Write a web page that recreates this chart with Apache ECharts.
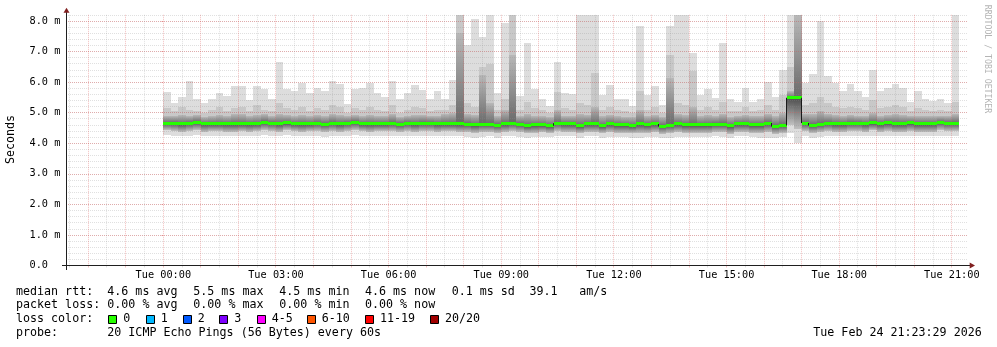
<!DOCTYPE html>
<html><head><meta charset="utf-8">
<script src="https://cdn.jsdelivr.net/npm/echarts@6/dist/echarts.min.js"></script>
<style>html,body{margin:0;padding:0;background:#fff}#c{width:997px;height:347px}</style>
</head><body><div id="c"></div>
<script>
// ---- data (minutes from Tue 00:00, 12-minute bins, values in ms) ----
const binMinutes = 12;
const pTop = [5.66,5.30,5.51,6.05,5.46,5.33,5.46,5.64,5.54,5.86,
  5.86,5.40,5.86,5.77,5.46,6.66,5.77,5.70,5.96,5.64,
  5.82,5.70,6.05,5.93,5.27,5.77,5.79,5.96,5.64,5.51,
  6.05,5.43,5.64,5.90,5.74,5.46,5.70,5.44,6.06,8.20,
  7.22,8.07,7.47,8.20,5.65,7.93,8.20,5.53,7.29,5.76,
  5.46,5.23,6.64,5.65,5.62,8.20,8.20,8.20,5.57,5.89,
  5.46,5.43,5.21,7.82,5.57,5.86,5.24,7.82,8.20,8.20,
  6.95,5.57,5.76,5.49,7.27,5.43,5.35,5.82,5.35,5.46,
  6.01,5.50,6.39,8.20,8.20,5.97,6.26,8.00,6.19,5.97,
  5.70,5.93,5.72,5.52,6.39,5.72,5.82,5.93,5.82,5.35,
  5.70,5.46,5.39,5.44,5.33,8.20];
const pHi = [5.15,5.05,5.20,5.10,5.05,5.00,5.10,5.20,5.05,5.15,
  5.20,5.05,5.25,5.10,5.05,5.30,5.15,5.10,5.20,5.05,
  5.15,5.10,5.25,5.20,5.00,5.15,5.10,5.20,5.10,5.05,
  5.25,5.00,5.10,5.20,5.15,5.05,5.10,5.10,5.25,8.20,
  5.30,5.20,6.50,6.60,5.10,5.45,8.20,5.10,5.35,5.15,
  5.10,5.00,5.67,5.15,5.10,5.30,5.25,6.29,5.10,5.20,
  5.10,5.05,5.00,5.71,5.10,5.20,5.00,6.90,5.30,5.25,
  6.36,5.10,5.20,5.10,5.35,5.05,5.05,5.20,5.05,5.10,
  5.25,5.10,5.59,6.50,8.20,5.25,5.30,5.50,5.30,5.20,
  5.15,5.20,5.15,5.10,5.40,5.15,5.20,5.25,5.20,5.05,
  5.15,5.10,5.05,5.10,5.05,5.35];
const pMid = [4.90,4.88,4.92,4.90,4.92,4.86,4.90,4.92,4.88,4.95,
  4.95,4.88,4.92,4.95,4.88,4.95,4.92,4.90,4.92,4.88,
  4.92,4.88,4.95,4.92,4.88,4.92,4.90,4.92,4.88,4.88,
  4.95,4.86,4.90,4.92,4.92,4.88,4.90,4.95,5.00,7.60,
  4.95,4.92,6.24,5.30,4.88,5.10,6.90,4.90,4.95,4.90,
  4.88,4.85,5.10,4.90,4.90,4.95,4.92,5.20,4.88,4.92,
  4.88,4.86,4.85,5.10,4.88,4.92,4.85,6.14,4.95,4.92,
  5.20,4.88,4.92,4.88,4.95,4.86,4.88,4.92,4.88,4.88,
  4.95,4.88,5.00,5.70,8.20,4.95,4.95,5.05,4.95,4.92,
  4.90,4.92,4.90,4.90,5.00,4.90,4.92,4.95,4.92,4.88,
  4.90,4.88,4.88,4.90,4.88,4.95];
const pMed = [4.66,4.66,4.63,4.65,4.69,4.63,4.64,4.64,4.63,4.63,
  4.64,4.63,4.63,4.69,4.66,4.63,4.67,4.64,4.64,4.64,
  4.65,4.62,4.65,4.63,4.65,4.68,4.64,4.64,4.64,4.64,
  4.65,4.62,4.65,4.63,4.65,4.66,4.63,4.64,4.64,4.63,
  4.62,4.60,4.62,4.62,4.59,4.64,4.66,4.62,4.57,4.60,
  4.60,4.57,4.65,4.63,4.63,4.57,4.63,4.63,4.57,4.63,
  4.60,4.60,4.57,4.63,4.60,4.63,4.55,4.59,4.63,4.60,
  4.60,4.60,4.60,4.62,4.62,4.57,4.63,4.63,4.61,4.60,
  4.66,4.55,4.58,5.49,5.49,4.66,4.58,4.62,4.66,4.63,
  4.63,4.66,4.66,4.63,4.67,4.63,4.67,4.63,4.63,4.67,
  4.64,4.64,4.63,4.68,4.66,4.66];
const pLo = [4.42,4.40,4.38,4.40,4.42,4.38,4.40,4.40,4.38,4.38,
  4.40,4.38,4.40,4.42,4.40,4.38,4.42,4.40,4.38,4.40,
  4.40,4.36,4.40,4.38,4.40,4.42,4.40,4.38,4.40,4.40,
  4.40,4.36,4.40,4.38,4.40,4.40,4.38,4.40,4.40,4.38,
  4.36,4.32,4.36,4.38,4.32,4.38,4.40,4.36,4.32,4.35,
  4.36,4.34,4.40,4.38,4.38,4.33,4.38,4.38,4.33,4.36,
  4.35,4.35,4.32,4.32,4.35,4.36,4.30,4.33,4.36,4.35,
  4.35,4.35,4.35,4.38,4.36,4.30,4.38,4.38,4.35,4.32,
  4.38,4.30,4.34,4.60,4.45,4.40,4.32,4.36,4.40,4.38,
  4.38,4.40,4.40,4.38,4.42,4.38,4.40,4.38,4.38,4.40,
  4.38,4.38,4.38,4.42,4.40,4.40];
const pMin = [4.28,4.25,4.22,4.25,4.28,4.22,4.25,4.25,4.22,4.22,
  4.25,4.22,4.25,4.28,4.25,4.22,4.28,4.25,4.22,4.25,
  4.25,4.20,4.25,4.22,4.25,4.28,4.25,4.22,4.25,4.25,
  4.25,4.22,4.25,4.22,4.25,4.25,4.22,4.25,4.22,4.22,
  4.20,4.18,4.20,4.22,4.18,4.22,4.25,4.20,4.18,4.20,
  4.20,4.20,4.25,4.22,4.22,4.18,4.22,4.22,4.18,4.20,
  4.20,4.20,4.18,4.18,4.20,4.20,4.16,4.18,4.20,4.20,
  4.20,4.20,4.20,4.22,4.20,4.16,4.22,4.22,4.20,4.18,
  4.18,4.18,4.20,4.35,4.00,4.25,4.18,4.20,4.25,4.22,
  4.22,4.25,4.25,4.22,4.25,4.22,4.25,4.22,4.22,4.25,
  4.22,4.22,4.22,4.25,4.25,4.25];

const xTickMinutes = [0, 180, 360, 540, 720, 900, 1080, 1260];
const xTickLabels = ['Tue 00:00','Tue 03:00','Tue 06:00','Tue 09:00','Tue 12:00','Tue 15:00','Tue 18:00','Tue 21:00'];
const lossLegend = [['0','#26ff00'],['1','#00b8ff'],['2','#0059ff'],['3','#7e00ff'],['4-5','#ff00ff'],['6-10','#ff5500'],['11-19','#ff0000'],['20/20','#a10000']];
const statsRtt = ['4.6 ms avg','5.5 ms max','4.5 ms min','4.6 ms now','0.1 ms sd'];
const statsLoss = ['0.00 % avg','0.00 % max','0.00 % min','0.00 % now'];

// ---- layout ----
const X_MIN = -155.5, X_MAX = 1284.5;
const MONO = "'DejaVu Sans Mono', monospace";
const MAJOR_COL = 'rgba(222,79,79,0.36)';
const MINOR_COL = 'rgba(143,143,143,0.28)';

const smokeData = pTop.map((t, i) => [i * binMinutes, (i + 1) * binMinutes, pMin[i], pLo[i], pMed[i], pMid[i], pHi[i], t]);
const medData = pMed.map((m, i) => [i * binMinutes, (i + 1) * binMinutes, m]);
const majorGrid = [], minorGrid = [];
for (let m = -120; m < X_MAX; m += 60) majorGrid.push([m, 1]);
for (let m = -150; m < X_MAX; m += 60) minorGrid.push([m, 1]);

function renderSmoke(params, api) {
  const x0 = Math.round(api.coord([api.value(0), 0])[0]);
  const x1 = Math.round(api.coord([api.value(1), 0])[0]);
  const Y = v => Math.round(api.coord([0, v])[1]);
  const r = (a, b) => ({ x: x0, y: Y(b), width: x1 - x0, height: Y(a) - Y(b) });
  return { type: 'group', children: [
    { type: 'rect', shape: r(api.value(2), api.value(7)), style: { fill: '#dddddd' } },
    { type: 'rect', shape: r(api.value(3), api.value(6)), style: { fill: '#c8c8c8' } },
    { type: 'rect', shape: r(api.value(4), api.value(5)), style: { fill: new echarts.graphic.LinearGradient(0, 0, 0, 1, [{ offset: 0, color: '#b8b8b8' }, { offset: 1, color: '#6a6a6a' }]) } },
    { type: 'rect', shape: r(api.value(3), api.value(4)), style: { fill: new echarts.graphic.LinearGradient(0, 0, 0, 1, [{ offset: 0, color: '#4e4e4e' }, { offset: 1, color: '#c0c0c0' }]) } }
  ] };
}
function renderMedian(params, api) {
  const i = params.dataIndex;
  const x0 = Math.round(api.coord([api.value(0), 0])[0]);
  const x1 = Math.round(api.coord([api.value(1), 0])[0]);
  const y = api.coord([0, api.value(2)])[1];
  const kids = [];
  if (i > 0) {
    const yp = api.coord([0, pMed[i - 1]])[1];
    const a = Math.min(y, yp), b = Math.max(y, yp);
    if (b - a > 2) kids.push({ type: 'rect', shape: { x: x0 - 1, y: a, width: 1, height: b - a }, style: { fill: '#1a1a1a' } });
  }
  kids.push({ type: 'rect', shape: { x: x0, y: Math.round(y - 1.5), width: x1 - x0, height: 3 }, style: { fill: '#26ff00' } });
  return { type: 'group', children: kids };
}
function gridRenderer(color, tickLen) {
  return function (params, api) {
    const cs = params.coordSys;
    const x = Math.floor(api.coord([api.value(0), 0])[0]) + 0.5;
    const yb = cs.y + cs.height;
    return { type: 'group', children: [
      { type: 'line', shape: { x1: x, y1: cs.y, x2: x, y2: yb }, style: { stroke: color, lineWidth: 1, lineDash: [1, 1] } },
      { type: 'line', shape: { x1: x, y1: yb, x2: x, y2: yb + tickLen }, style: { stroke: color, lineWidth: 1 } }
    ] };
  };
}

const gfx = [];
function txt(x, y, s, extra) {
  gfx.push(Object.assign({ type: 'text', x: x, y: y, style: { text: s, x: 0, y: 0, font: '11.66px ' + MONO, fill: '#000', textAlign: 'left', textVerticalAlign: 'middle', align: 'left', verticalAlign: 'middle' } }, extra || {}));
}
const L1 = 291.6, L2 = 305.4, L3 = 319.3, L4 = 333.2;
const statX = [107.3, 193.3, 279.3, 365, 451.7];
txt(16, L1, 'median rtt:');
statsRtt.forEach((s, i) => txt(statX[i], L1, s));
txt(529.5, L1, '39.1');
txt(579.3, L1, 'am/s');
txt(16, L2, 'packet loss:');
statsLoss.forEach((s, i) => txt(statX[i], L2, s));
txt(16, L3, 'loss color:');
const boxX = [108.3, 145.7, 182.7, 219.3, 256.7, 306.7, 365, 430];
lossLegend.forEach((d, i) => {
  gfx.push({ type: 'rect', shape: { x: Math.round(boxX[i]) + 0.5, y: 315.5, width: 8, height: 8 }, style: { fill: d[1], stroke: '#000', lineWidth: 1 } });
  txt(boxX[i] + 15, L3, d[0]);
});
txt(16, L4, 'probe:');
txt(107.3, L4, '20 ICMP Echo Pings (56 Bytes) every 60s');
txt(813.3, L4, 'Tue Feb 24 21:23:29 2026');
gfx.push({ type: 'text', x: 10.5, y: 139.5, rotation: Math.PI / 2, style: { text: 'Seconds', x: 0, y: 0, font: '11.66px ' + MONO, fill: '#000', textAlign: 'center', textVerticalAlign: 'middle', align: 'center', verticalAlign: 'middle' } });
gfx.push({ type: 'text', x: 987.5, y: 59, rotation: -Math.PI / 2, style: { text: 'RRDTOOL / TOBI OETIKER', x: 0, y: 0, font: '8.2px ' + MONO, fill: '#b4b4b4', textAlign: 'center', textVerticalAlign: 'middle', align: 'center', verticalAlign: 'middle' } });
// axis extensions and arrows
gfx.push({ type: 'line', shape: { x1: 62, y1: 265.5, x2: 972, y2: 265.5 }, style: { stroke: '#1f1f1f', lineWidth: 1 }, z: 20 });
gfx.push({ type: 'line', shape: { x1: 66.5, y1: 270, x2: 66.5, y2: 10.5 }, style: { stroke: '#1f1f1f', lineWidth: 1 }, z: 20 });
gfx.push({ type: 'polygon', shape: { points: [[969.7, 262.5], [969.7, 268.5], [975, 265.5]] }, style: { fill: '#801f1f' }, z: 21 });
gfx.push({ type: 'polygon', shape: { points: [[63.5, 12.8], [69.5, 12.8], [66.5, 7.8]] }, style: { fill: '#801f1f' }, z: 21 });

const chart = echarts.init(document.getElementById('c'), null, { renderer: 'canvas' });
chart.setOption({
  animation: false,
  backgroundColor: '#ffffff',
  grid: { left: 66, right: 29.8, top: 14.8, bottom: 81.5, containLabel: false },
  xAxis: {
    type: 'value', min: X_MIN, max: X_MAX, z: 5,
    axisLine: { show: false },
    axisTick: { show: false },
    splitLine: { show: false },
    axisLabel: {
      customValues: xTickMinutes,
      formatter: v => xTickLabels[xTickMinutes.indexOf(v)] || '',
      color: '#000', margin: 5, fontFamily: 'DejaVu Sans Mono', fontSize: 10.25
    }
  },
  yAxis: [
    {
      type: 'value', min: 0, max: 8.2, interval: 1, z: 5,
      axisLine: { show: false },
      axisTick: { show: true, length: 2, lineStyle: { color: MAJOR_COL } },
      splitLine: { show: true, showMaxLine: false, showMinLine: false, lineStyle: { color: MAJOR_COL, type: [1, 1], width: 1 } },
      axisLabel: {
        align: 'left', margin: 36.5, color: '#000', fontFamily: 'DejaVu Sans Mono', fontSize: 10.25,
        showMaxLabel: false,
        formatter: v => (Math.abs(v - Math.round(v)) > 1e-6) ? '' : (v === 0 ? '0.0' : v.toFixed(1) + ' m')
      }
    },
    {
      type: 'value', min: 0, max: 8.2, interval: 0.2, z: 4, position: 'right',
      axisLine: { show: false }, axisTick: { show: false }, axisLabel: { show: false },
      splitLine: { show: true, showMinLine: false, lineStyle: { color: MINOR_COL, type: [1, 1], width: 1 } }
    }
  ],
  series: [
    { type: 'custom', name: 'smoke', z: 2, renderItem: renderSmoke, data: smokeData, encode: { x: [0, 1], y: [2, 3, 4, 5, 6, 7] } },
    { type: 'custom', name: 'minorgrid', z: 6, clip: false, silent: true, renderItem: gridRenderer(MINOR_COL, 2), data: minorGrid, encode: { x: 0, y: 1 } },
    { type: 'custom', name: 'majorgrid', z: 7, clip: false, silent: true, renderItem: gridRenderer(MAJOR_COL, 2), data: majorGrid, encode: { x: 0, y: 1 } },
    { type: 'custom', name: 'median', z: 9, renderItem: renderMedian, data: medData, encode: { x: [0, 1], y: 2 } }
  ],
  graphic: gfx
});
</script></body></html>
